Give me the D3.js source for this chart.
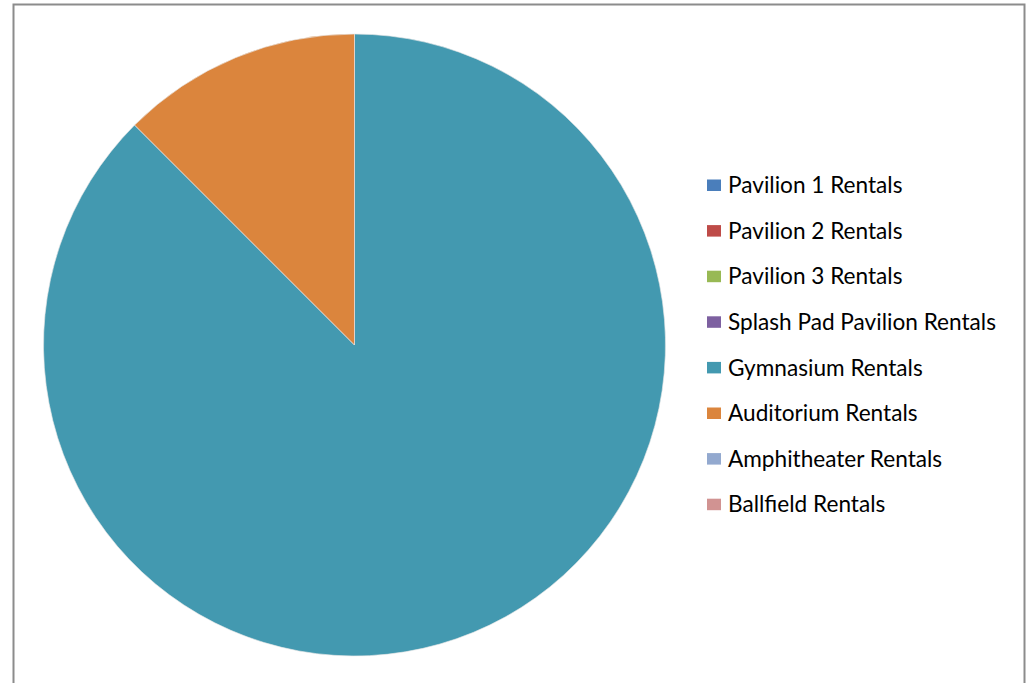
<!DOCTYPE html>
<html>
<head>
<meta charset="utf-8">
<script src="https://cdn.jsdelivr.net/npm/d3@7/dist/d3.min.js"></script>
<style>
  html, body { margin: 0; padding: 0; background: #ffffff; }
  svg { display: block; }
</style>
</head>
<body>
<svg id="chart" width="1032" height="683"></svg>
<script>
// Facility rental counts
const categories = [
  "Pavilion 1 Rentals",
  "Pavilion 2 Rentals",
  "Pavilion 3 Rentals",
  "Splash Pad Pavilion Rentals",
  "Gymnasium Rentals",
  "Auditorium Rentals",
  "Amphitheater Rentals",
  "Ballfield Rentals"
];
const rentals = [0, 0, 0, 0, 7, 1, 0, 0];
const palette = [
  "#4a7ebb", "#be4b48", "#98b954", "#7d60a0",
  "#4399b0", "#db853d", "#93a9cf", "#d19392"
];

const svg = d3.select("#chart");

// Chart frame (bottom edge runs past the visible area)
svg.append("rect")
  .attr("x", 13.5).attr("y", 4.5)
  .attr("width", 1011).attr("height", 720)
  .attr("fill", "#ffffff")
  .attr("stroke", "#8c8c8c")
  .attr("stroke-width", 2);

const data = categories.map((c, i) => ({ name: c, value: rentals[i] }));

const color = d3.scaleOrdinal().domain(categories).range(palette);

const cx = 354.5, cy = 345, radius = 311;

const pie = d3.pie().sort(null).value(d => d.value).startAngle(0).endAngle(2 * Math.PI);
const arc = d3.arc().innerRadius(0).outerRadius(radius);

svg.append("g")
  .attr("transform", `translate(${cx},${cy})`)
  .selectAll("path")
  .data(pie(data).filter(d => d.data.value > 0))
  .join("path")
  .attr("d", arc)
  .attr("fill", d => color(d.data.name))
  .attr("stroke", "#e8e8e8")
  .attr("stroke-width", 0.8)
  .attr("stroke-opacity", 0.8);

// Legend
const legendX = 707, legendTop = 185, rowGap = 45.6;
const legend = svg.append("g").attr("font-family", "Lato, 'Open Sans', sans-serif");

const rows = legend.selectAll("g")
  .data(data)
  .join("g")
  .attr("transform", (d, i) => `translate(${legendX},${legendTop + i * rowGap})`);

rows.append("rect")
  .attr("x", 0).attr("y", -5.5)
  .attr("width", 14).attr("height", 11.5)
  .attr("fill", d => color(d.name));

const labels = rows.append("text")
  .attr("x", 21)
  .attr("y", 0)
  .attr("dy", "0.36em")
  .attr("font-size", 20)
  .attr("fill", "#000000")
  .text(d => d.name);

// Scale the label size so the widest entry spans the legend column
const widest = d3.max(labels.nodes(), n => n.getComputedTextLength());
const target = 268;
labels.attr("font-size", 20 * target / widest);
</script>
</body>
</html>
